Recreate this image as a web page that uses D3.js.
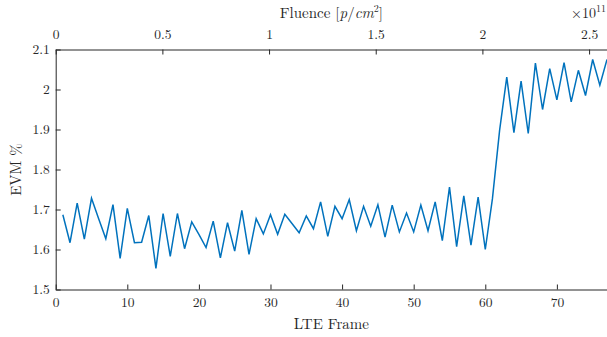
<!DOCTYPE html>
<html>
<head>
<meta charset="utf-8">
<script src="https://cdn.jsdelivr.net/npm/d3@7"></script>
<style>
  body { margin: 0; background: #fff; }
  svg { display: block; }
  text { font-family: "Latin Modern Roman", "CMU Serif", "Liberation Serif", serif; fill: #262626; }
</style>
</head>
<body>
<div class="svg-container"></div>
<script>
// EVM per LTE frame (frames 1..77)
const evm = [
  1.687, 1.617, 1.716, 1.626, 1.728, 1.677, 1.627, 1.712, 1.578, 1.703,
  1.617, 1.618, 1.685, 1.553, 1.690, 1.583, 1.690, 1.602, 1.669, 1.638,
  1.605, 1.671, 1.579, 1.667, 1.596, 1.698, 1.588, 1.677, 1.639, 1.687,
  1.638, 1.688, 1.665, 1.642, 1.684, 1.652, 1.719, 1.633, 1.708, 1.677,
  1.725, 1.647, 1.708, 1.658, 1.712, 1.631, 1.711, 1.644, 1.691, 1.644,
  1.711, 1.647, 1.719, 1.622, 1.756, 1.607, 1.734, 1.611, 1.731, 1.600,
  1.727, 1.898, 2.031, 1.892, 2.021, 1.890, 2.066, 1.950, 2.052, 1.974,
  2.067, 1.969, 2.048, 1.985, 2.075, 2.011, 2.075
];
const frames = evm.map((d, i) => i + 1);
const frameTicks = [0, 10, 20, 30, 40, 50, 60, 70];
const evmTicks = [1.5, 1.6, 1.7, 1.8, 1.9, 2.0, 2.1];
const fluenceTicks = [0, 0.5e11, 1e11, 1.5e11, 2e11, 2.5e11];
const fluenceMax = 2.584e11;

const width = 607, height = 337;
const mLeft = 55.7, mRight = 607, mTop = 49.5, mBottom = 289.5;

const svg = d3.select(".svg-container").append("svg")
  .attr("width", width).attr("height", height);

const x = d3.scaleLinear().domain([0, 77]).range([mLeft, mRight]);
const xTop = d3.scaleLinear().domain([0, fluenceMax]).range([mLeft, mRight]);
const y = d3.scaleLinear().domain([1.5, 2.1]).range([mBottom, mTop]);

function styleAxis(g) {
  g.select(".domain").attr("stroke", "#262626").attr("stroke-width", 1);
  g.selectAll(".tick line").attr("stroke", "#262626").attr("stroke-width", 1);
  g.selectAll(".tick text").attr("font-size", 13.5).attr("fill", "#262626");
  g.attr("font-family", null).attr("font-size", null);
}

svg.append("g").attr("transform", "translate(0," + mBottom + ")")
  .call(d3.axisBottom(x).tickValues(frameTicks).tickSizeInner(-5).tickSizeOuter(0).tickPadding(8))
  .call(styleAxis);

svg.append("g").attr("transform", "translate(0," + mTop + ")")
  .call(d3.axisTop(xTop).tickValues(fluenceTicks).tickFormat(d => d / 1e11)
    .tickSizeInner(-5).tickSizeOuter(0).tickPadding(10.5))
  .call(styleAxis);

svg.append("g").attr("transform", "translate(" + mLeft + ",0)")
  .call(d3.axisLeft(y).tickValues(evmTicks).tickFormat(d => d === 2 ? "2" : d3.format(".1f")(d))
    .tickSizeInner(-5).tickSizeOuter(0).tickPadding(6))
  .call(styleAxis);

const line = d3.line().x((d, i) => x(frames[i])).y(d => y(d));
svg.append("path").datum(evm)
  .attr("fill", "none").attr("stroke", "#0072BD").attr("stroke-width", 1.5)
  .attr("stroke-linejoin", "miter").attr("d", line);

// axis titles
svg.append("text").attr("x", (mLeft + mRight) / 2).attr("y", 329)
  .attr("text-anchor", "middle").attr("font-size", 15).text("LTE Frame");

const ft = svg.append("text").attr("x", (mLeft + mRight) / 2).attr("y", 18)
  .attr("text-anchor", "middle").attr("font-size", 15);
ft.append("tspan").text("Fluence [");
ft.append("tspan").attr("font-style", "italic").text("p");
ft.append("tspan").text("/");
ft.append("tspan").attr("font-style", "italic").text("cm");
ft.append("tspan").attr("font-size", 10).attr("dy", -6).text("2");
ft.append("tspan").attr("dy", 6).text("]");

const exp = svg.append("text").attr("x", 606).attr("y", 18)
  .attr("text-anchor", "end").attr("font-size", 14);
exp.append("tspan").text("×10");
exp.append("tspan").attr("font-size", 10).attr("dy", -6).text("11");

svg.append("text").attr("transform", "translate(21," + (mTop + mBottom) / 2 + ") rotate(-90)")
  .attr("text-anchor", "middle").attr("font-size", 15).text("EVM %");
</script>
</body>
</html>
